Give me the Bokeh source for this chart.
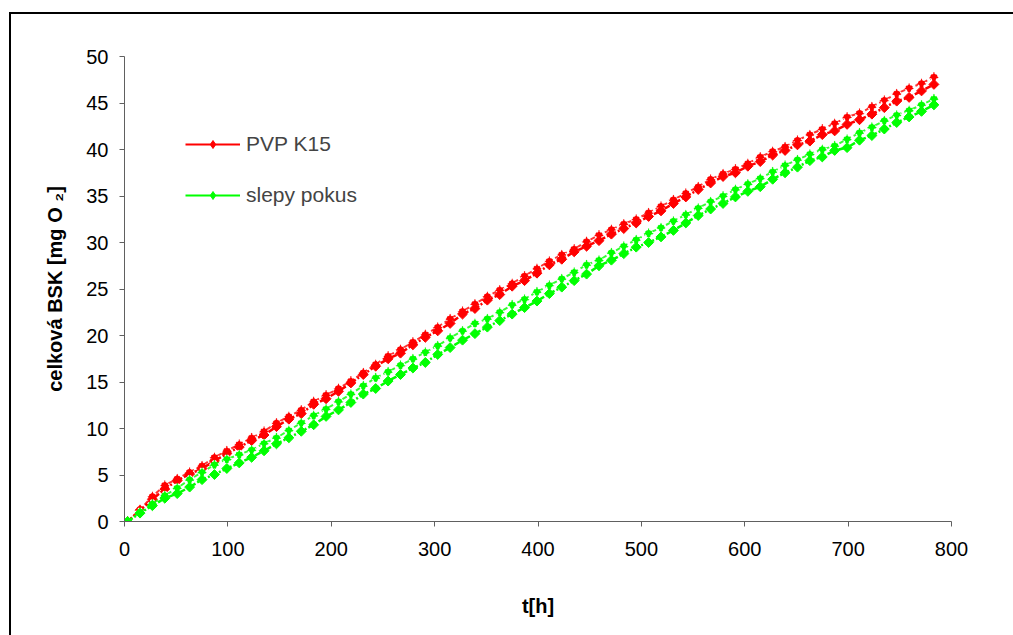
from bokeh.plotting import figure
from bokeh.models import Range1d, Legend, LegendItem, ColumnDataSource, FixedTicker
from bokeh.embed import file_html
from bokeh.resources import INLINE
import math

# time [h]
t_h = [3, 15, 27, 39, 51, 63, 75, 87, 99, 111, 123, 135, 147, 159, 171, 183, 195, 207, 219, 231,
       243, 255, 267, 279, 291, 303, 315, 327, 339, 351, 363, 375, 387, 399, 411, 423, 435, 447, 459, 471,
       483, 495, 507, 519, 531, 543, 555, 567, 579, 591, 603, 615, 627, 639, 651, 663, 675, 687, 699, 711,
       723, 735, 747, 759, 771, 783]

# PVP K15 replicate (upper) and replicate (lower)
pvp_a = [0, 1.3, 2.7, 3.9, 4.6, 5.3, 6.0, 6.9, 7.6, 8.3, 9.0, 9.7, 10.6, 11.3, 12.0, 12.9, 13.6, 14.3, 15.1, 16.0,
         16.9, 17.8, 18.5, 19.3, 20.1, 20.9, 21.8, 22.6, 23.4, 24.2, 24.9, 25.6, 26.4, 27.2, 28.0, 28.7, 29.3, 30.1, 30.8, 31.4,
         32.0, 32.5, 33.2, 33.9, 34.6, 35.3, 36.0, 36.8, 37.4, 37.9, 38.5, 39.2, 39.8, 40.3, 41.0, 41.6, 42.2, 42.8, 43.5, 43.9,
         44.6, 45.3, 46.0, 46.6, 47.1, 47.8]
pvp_b = [0, 1.2, 2.4, 3.5, 4.4, 5.1, 5.7, 6.5, 7.3, 8.0, 8.7, 9.3, 10.2, 11.0, 11.6, 12.6, 13.2, 14.0, 14.9, 15.8,
         16.7, 17.5, 18.1, 19.0, 19.8, 20.5, 21.3, 22.3, 22.9, 23.8, 24.4, 25.3, 25.9, 26.7, 27.6, 28.2, 29.0, 29.6, 30.2, 30.9,
         31.5, 32.1, 32.8, 33.4, 34.2, 34.9, 35.7, 36.4, 37.1, 37.5, 38.2, 38.7, 39.4, 39.9, 40.5, 40.9, 41.6, 42.0, 42.7, 43.2,
         43.8, 44.5, 45.2, 45.6, 46.3, 47.0]

# slepy pokus (blank) replicate (upper) and replicate (lower)
blank_a = [0, 1.0, 1.9, 2.8, 3.6, 4.5, 5.3, 6.1, 6.7, 7.2, 7.7, 8.4, 9.0, 9.8, 10.6, 11.4, 12.1, 12.9, 13.7, 14.6,
           15.45, 16.1, 16.8, 17.5, 18.2, 18.9, 19.75, 20.5, 21.3, 21.8, 22.5, 23.3, 23.9, 24.7, 25.4, 26.1, 26.8, 27.6, 28.1, 28.9,
           29.6, 30.3, 31.0, 31.6, 32.3, 33.0, 33.7, 34.4, 35.0, 35.7, 36.3, 36.9, 37.6, 38.3, 38.9, 39.5, 40.0, 40.4, 41.1, 41.8,
           42.4, 43.1, 43.7, 44.2, 44.8, 45.45]
blank_b = [0, 0.9, 1.7, 2.5, 3.0, 3.7, 4.5, 5.05, 5.7, 6.3, 6.9, 7.6, 8.35, 9.0, 9.7, 10.4, 11.3, 12.0, 12.8, 13.7,
           14.3, 15.1, 15.8, 16.5, 17.1, 17.96, 18.7, 19.5, 20.2, 20.9, 21.6, 22.3, 23.0, 23.7, 24.5, 25.2, 25.9, 26.6, 27.5, 28.1,
           28.8, 29.5, 30.0, 30.6, 31.3, 32.1, 32.9, 33.6, 34.2, 34.9, 35.5, 36.0, 36.8, 37.5, 38.1, 38.8, 39.2, 39.9, 40.2, 41.0,
           41.5, 42.2, 42.9, 43.5, 44.1, 44.8]

series_names = ["PVP K15", "slepy pokus"]
series_colors = ["#FF0000", "#00FF00"]
x_ticks = [0, 100, 200, 300, 400, 500, 600, 700, 800]
y_ticks = [0, 5, 10, 15, 20, 25, 30, 35, 40, 45, 50]

FONT = "Liberation Sans"
AXIS_COL = "#606060"

p = figure(width=1013, height=635, output_backend="svg", toolbar_location=None,
           x_range=Range1d(0, 800), y_range=Range1d(0, 50),
           frame_width=827, frame_height=465,
           min_border_left=124, min_border_right=62, min_border_top=56, min_border_bottom=114)
p.background_fill_color = "white"
p.border_fill_color = None
p.outline_line_color = None
p.xgrid.visible = False
p.ygrid.visible = False
# outer chart-area border (left and top edges visible inside the window)
p.styles = {
    "background": "linear-gradient(#000,#000) 9px 12px / 2px 700px no-repeat, "
                  "linear-gradient(#000,#000) 9px 12px / 1100px 2px no-repeat, #fff",
}

for ax, ticks in ((p.xaxis, x_ticks), (p.yaxis, y_ticks)):
    ax.ticker = FixedTicker(ticks=ticks)
    ax.minor_tick_line_color = None
    ax.major_tick_in = 0
    ax.major_tick_out = 5
    ax.axis_line_color = AXIS_COL
    ax.major_tick_line_color = AXIS_COL
    ax.major_label_text_font = FONT
    ax.major_label_text_font_size = "20px"
    ax.major_label_text_color = "black"
    ax.axis_label_text_font = FONT
    ax.axis_label_text_font_size = "20px"
    ax.axis_label_text_font_style = "bold"
    ax.axis_label_text_color = "black"

p.xaxis.axis_label = "t[h]"
p.xaxis.major_label_standoff = 15
p.xaxis.axis_label_standoff = 36
p.yaxis.axis_label = "celková BSK [mg O ₂]"
p.yaxis.major_label_standoff = 11
p.yaxis.axis_label_standoff = 17

ang = math.pi / 4

def draw(vals_upper, vals_lower, color):
    su = ColumnDataSource(dict(t=t_h, v=vals_upper))
    sl = ColumnDataSource(dict(t=t_h, v=vals_lower))
    # upper replicate: lighter dashed rendering
    p.line("t", "v", source=su, line_color=color, line_width=2, line_dash="5 3", line_alpha=0.8)
    p.scatter("t", "v", source=su, marker="square", angle=ang, size=7,
              fill_color=color, line_color="white", line_width=1.2, line_dash="2 2")
    # lower replicate: solid diamonds, dash-dot line
    p.line("t", "v", source=sl, line_color=color, line_width=2.5, line_dash="6 2 2 2")
    p.scatter("t", "v", source=sl, marker="square", angle=ang, size=7,
              fill_color=color, line_color=color, line_width=1)

draw(pvp_a, pvp_b, series_colors[0])
draw(blank_a, blank_b, series_colors[1])

items = []
for name, col in zip(series_names, series_colors):
    lr = p.line([-100, -90], [-100, -100], line_color=col, line_width=2)
    sr = p.scatter([-100], [-100], marker="diamond", size=10, fill_color=col, line_color=col)
    items.append(LegendItem(label=name, renderers=[lr, sr]))

legend = Legend(items=items, location=(61, 314), orientation="vertical",
                glyph_width=55, glyph_height=20, label_height=20, spacing=27,
                label_text_font=FONT, label_text_font_size="21px", label_standoff=6,
                padding=0, margin=0, border_line_color=None, background_fill_alpha=0)
p.add_layout(legend, "center")

open("out.html", "w").write(file_html(p, INLINE))
